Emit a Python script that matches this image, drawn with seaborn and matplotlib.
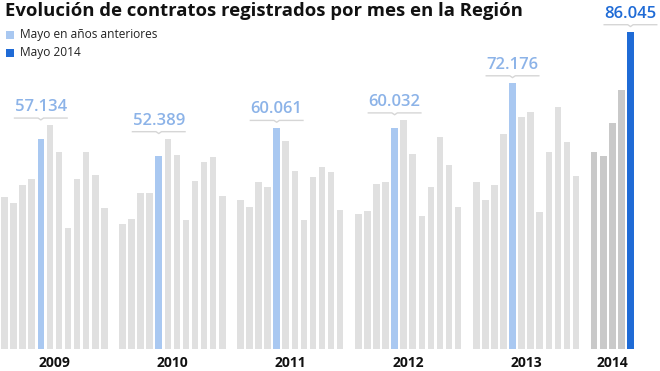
import numpy as np
import pandas as pd
import matplotlib
matplotlib.use("Agg")
import matplotlib.pyplot as plt
from matplotlib.patches import Rectangle
import seaborn as sns

# monthly registered contracts (May values are labelled)
years = [2009, 2010, 2011, 2012, 2013, 2014]
v2009 = [41200, 39550, 44400, 46100, 57134, 60700, 53500, 32900, 46150, 53500, 47150, 38300]
v2010 = [33950, 35400, 42250, 42450, 52389, 57000, 52750, 35000, 45700, 50750, 52050, 41550]
v2011 = [40450, 38550, 45350, 43900, 60061, 56400, 48250, 35000, 46600, 49500, 47950, 37800]
v2012 = [36550, 37400, 44900, 45400, 60032, 62100, 52950, 36100, 43900, 57550, 49850, 38550]
v2013 = [45250, 40450, 44500, 58400, 72176, 62900, 64350, 37100, 53400, 65800, 56200, 47050]
v2014 = [53400, 52400, 61350, 70200, 86045]
series = [v2009, v2010, v2011, v2012, v2013, v2014]

title = "Evolución de contratos registrados por mes en la Región"
legend_labels = ["Mayo en años anteriores", "Mayo 2014"]

GRAY = "#e0e0e0"
GRAY14 = "#c9c9c9"
LBLUE = "#a9c8f1"
LBLUE_TXT = "#8cb3e8"
DBLUE = "#1f6bd6"
LINE = "#d6d6d6"

rows = []
for i, (yr, vals) in enumerate(zip(years, series)):
    for m, v in enumerate(vals):
        if m == 4:
            col = DBLUE if yr == 2014 else LBLUE
        else:
            col = GRAY14 if yr == 2014 else GRAY
        rows.append({"year": yr, "month": m + 1, "pos": float(i * 13 + m), "value": v, "color": col})
df = pd.DataFrame(rows)

plt.rcParams["font.family"] = ["Open Sans", "DejaVu Sans"]
fig = plt.figure(figsize=(6.6, 3.71), dpi=100)
ax = fig.add_axes([0, 22 / 371, 635 / 660, 349 / 371])

sns.barplot(data=df, x="pos", y="value", hue="pos", palette=dict(zip(df["pos"], df["color"])),
            native_scale=True, legend=False, width=0.73, ax=ax, saturation=1)

ax.set_xlim(-0.5, 69.5)
ax.set_ylim(0, 349 * 271.5)
for s in ax.spines.values():
    s.set_visible(False)
ax.set_yticks([])
ax.set_xlabel("")
ax.set_ylabel("")

centers = [df[df.year == yr]["pos"].mean() for yr in years]
ax.set_xticks(centers)
ax.set_xticklabels([str(y) for y in years], fontsize=10, fontweight="bold", color="#111111")
ax.tick_params(axis="x", length=0, pad=5)

# May labels with small bracket
for yr, vals in zip(years, series):
    may = df[(df.year == yr) & (df.month == 5)].iloc[0]
    neigh = vals[4:6]
    ly = max(neigh) + 2000
    c = may["pos"]
    txtcol = DBLUE if yr == 2014 else LBLUE_TXT
    ax.plot([c - 2.9, c - 0.3, c, c + 0.3, c + 2.9], [ly, ly, ly - 500, ly, ly],
            color=LINE, lw=1, clip_on=False)
    ax.text(c, ly + 800, f"{may['value']:,}".replace(",", "."), ha="center", va="bottom",
            fontsize=12, fontweight="semibold", color=txtcol, clip_on=False)

fig.text(5 / 660, 1 - 2 / 371, title, fontsize=13.3, fontweight="bold", va="top", ha="left", color="#111111")

for k, (lab, col) in enumerate(zip(legend_labels, [LBLUE, DBLUE])):
    ytop = 31 + k * 18
    fig.patches.append(Rectangle((6 / 660, 1 - (ytop + 7.5) / 371), 7.5 / 660, 7.5 / 371,
                                 transform=fig.transFigure, color=col, lw=0))
    fig.text(20 / 660, 1 - (ytop + 3.8) / 371, lab, fontsize=8.6, va="center", ha="left", color="#222222")

fig.savefig("out.png", dpi=100)
